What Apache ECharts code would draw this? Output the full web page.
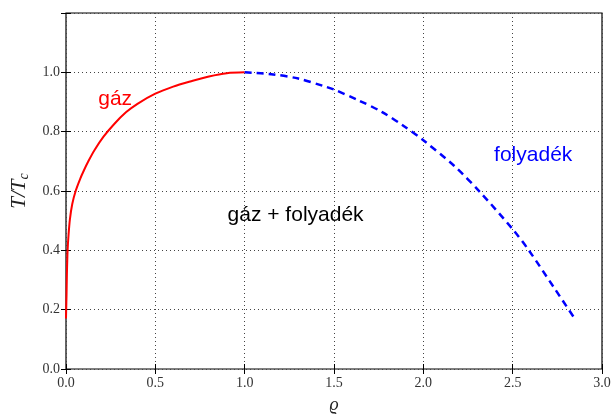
<!DOCTYPE html>
<html>
<head>
    <meta charset="UTF-8">
    <title>gáz - folyadék</title>
    <script src="https://cdn.jsdelivr.net/npm/echarts@6/dist/echarts.min.js"></script>
    <style>
        body, html {
            margin: 0;
            padding: 0;
            height: 100%;
            width: 100%;
            background: #fff;
        }
        #chart {
            width: 613px;
            height: 415px;
        }
    </style>
</head>
<body>
<div id="chart"></div>
<script>
    // gas branch (red, solid)
    var gasRho = [0, 0.001, 0.003, 0.005, 0.009, 0.014, 0.022, 0.035, 0.054, 0.08, 0.1, 0.125, 0.16, 0.21, 0.27, 0.337, 0.4, 0.5, 0.6, 0.7, 0.8, 0.9, 1.0];
    var gasT = [0.17, 0.2, 0.25, 0.32, 0.4, 0.45, 0.505, 0.556, 0.6, 0.642, 0.669, 0.7, 0.738, 0.783, 0.826, 0.866, 0.894, 0.928, 0.952, 0.970, 0.986, 0.997, 1.0];
    // liquid branch (blue, dashed)
    var liqRho = [1.0, 1.16, 1.30, 1.44, 1.5, 1.636, 1.767, 1.888, 2.0, 2.172, 2.318, 2.506, 2.593, 2.734, 2.846];
    var liqT = [1.0, 0.993, 0.979, 0.954, 0.942, 0.906, 0.867, 0.820, 0.771, 0.685, 0.596, 0.467, 0.398, 0.272, 0.171];
    // annotations: [rho, T, text, colour]
    var notes = [
        [0.275, 0.91, 'gáz', '#ff0000'],
        [1.285, 0.518, 'gáz + folyadék', '#000000'],
        [2.615, 0.72, 'folyadék', '#0000ff']
    ];
    var xTicks = {min: 0, max: 3, interval: 0.5};
    var yTicks = {min: 0, max: 1.2, interval: 0.2};

    function zip(a, b) {
        return a.map(function (v, i) { return [v, b[i]]; });
    }

    var serif = 'Liberation Serif';
    var sans = 'Liberation Sans';
    var gridLine = {show: true, lineStyle: {color: '#444', type: [1, 3], width: 1}};

    var chart = echarts.init(document.getElementById('chart'), null, {renderer: 'canvas'});
    chart.setOption({
        animation: false,
        grid: {left: 66, right: 11, top: 13, bottom: 46, show: true, borderColor: '#000', borderWidth: 1.2,
            outerBoundsMode: 'none', containLabel: false},
        xAxis: [{
            type: 'value', min: xTicks.min, max: xTicks.max, interval: xTicks.interval,
            name: 'ϱ', nameLocation: 'middle', nameGap: 27,
            nameTextStyle: {fontFamily: serif, fontStyle: 'italic', fontSize: 18, color: '#222'},
            axisLine: {show: false},
            axisTick: {inside: true, length: 5, lineStyle: {color: '#000'}},
            axisLabel: {fontFamily: serif, fontSize: 14, color: '#333', margin: 7,
                formatter: function (v) { return v.toFixed(1); }},
            splitLine: gridLine
        }, {
            type: 'value', position: 'top', min: xTicks.min, max: xTicks.max, interval: xTicks.interval,
            axisLine: {show: false},
            axisTick: {inside: true, length: 5, lineStyle: {color: '#000'}},
            axisLabel: {show: false}, splitLine: {show: false}
        }],
        yAxis: [{
            type: 'value', min: yTicks.min, max: yTicks.max, interval: yTicks.interval,
            name: '{i|T/T}{s|c}', nameLocation: 'middle', nameGap: 33, nameRotate: 90,
            nameTextStyle: {
                rich: {
                    i: {fontFamily: serif, fontStyle: 'italic', fontSize: 21, color: '#222'},
                    s: {fontFamily: serif, fontStyle: 'italic', fontSize: 14, color: '#222', verticalAlign: 'bottom', padding: [10, 0, 0, 0]}
                }
            },
            axisLine: {show: false},
            axisTick: {inside: true, length: 5, lineStyle: {color: '#000'}},
            axisLabel: {fontFamily: serif, fontSize: 14, color: '#333', margin: 6,
                formatter: function (v) { return v > 1.05 ? '' : v.toFixed(1); }},
            splitLine: gridLine
        }, {
            type: 'value', position: 'right', min: yTicks.min, max: yTicks.max, interval: yTicks.interval,
            axisLine: {show: false},
            axisTick: {inside: true, length: 5, lineStyle: {color: '#000'}},
            axisLabel: {show: false}, splitLine: {show: false}
        }],
        series: [{
            type: 'line', data: zip(gasRho, gasT), smooth: 0.3, showSymbol: false,
            lineStyle: {color: '#ff0000', width: 2}, z: 3
        }, {
            type: 'line', data: zip(liqRho, liqT), smooth: 0.3, showSymbol: false,
            lineStyle: {color: '#0000ff', width: 2.5, type: [7, 5]}, z: 3
        }, {
            type: 'scatter', symbolSize: 0, z: 4, itemStyle: {opacity: 1},
            data: notes.map(function (n) {
                return {
                    value: [n[0], n[1]],
                    label: {show: true, position: 'inside', formatter: n[2], color: n[3],
                        opacity: 1, fontFamily: sans, fontSize: 21}
                };
            })
        }]
    });
</script>
</body>
</html>
